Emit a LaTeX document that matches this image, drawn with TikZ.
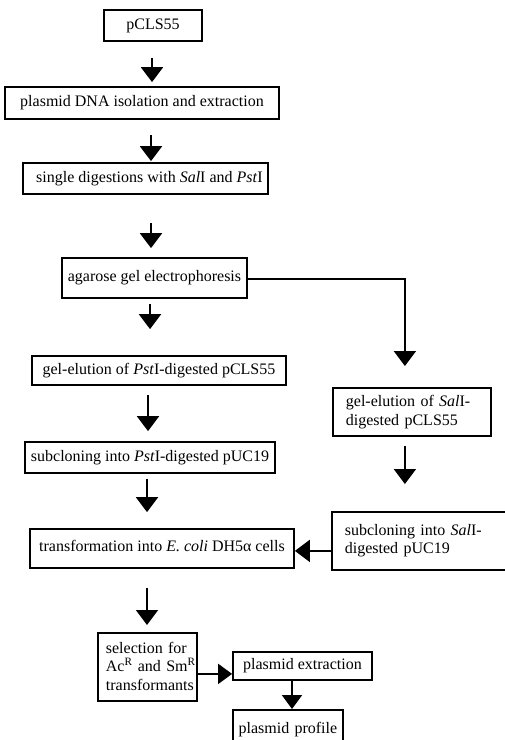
\documentclass[tikz,border=0pt]{standalone}
\usepackage{fontspec}
\setmainfont{Liberation Serif}
\usetikzlibrary{arrows.meta,calc}
\begin{document}
\begin{tikzpicture}[x=1pt,y=-1pt,
  box/.style={draw,line width=1.8pt,inner sep=0pt,font=\fontsize{16}{18.5}\selectfont},
  lbox/.style={box,anchor=north west,align=left},
  arr/.style={line width=2pt,-{Triangle[width=22pt,length=15pt]}},
  sarr/.style={line width=2pt,-{Triangle[width=20pt,length=14pt]}}]
\clip (0,0) rectangle (505,740);
\node[box,minimum width=98pt,minimum height=31pt] (p0) at (153,25.5) {pCLS55};
\node[box,minimum width=274pt,minimum height=32pt] (p1) at (142,103) {plasmid DNA isolation and extraction};
\node[box,minimum width=245pt,minimum height=31pt] (p2) at (145.5,178.5) {\hspace{8pt}single digestions with \textit{Sal}I and \textit{Pst}I};
\node[box,minimum width=185pt,minimum height=40pt] (p3) at (154.5,278) {\raisebox{5pt}{agarose gel electrophoresis}};
\node[box,minimum width=254pt,minimum height=29pt] (p4) at (159,370.5) {gel-elution of \textit{Pst}I-digested pCLS55};
\node[box,minimum width=250pt,minimum height=31pt] (p5) at (150,457.5) {subcloning into \textit{Pst}I-digested pUC19};
\node[box,minimum width=264pt,minimum height=39pt] (t) at (162,548.5) {\raisebox{5pt}{transformation into \textit{E. coli} DH5α cells}};
\node[lbox,minimum width=158pt,minimum height=48pt,inner xsep=13pt,text width=132pt] (s1) at (332,387) {gel-elution of \textit{Sal}I-\\digested pCLS55};
\node[lbox,minimum width=174pt,minimum height=58pt,inner xsep=13pt,text width=148pt] (s2) at (331,511) {\raisebox{2pt}{subcloning into \textit{Sal}I-}\\\raisebox{2pt}{digested pUC19}};
\node[lbox,minimum width=99pt,minimum height=68pt,inner xsep=8pt,text width=83pt] (sel) at (97,632) {\raisebox{2pt}{selection for}\\\raisebox{2pt}{Ac\textsuperscript{R} and Sm\textsuperscript{R}}\\\raisebox{2pt}{transformants}};
\node[box,minimum width=139pt,minimum height=28pt] (pe) at (302.5,666) {plasmid extraction};
\node[lbox,minimum width=110pt,minimum height=45pt,inner xsep=0pt,text width=110pt,align=center] (pp) at (232,709) {\raisebox{8.5pt}{plasmid profile}};
% arrows
\draw[arr] ($(p0.south)+(-1,16)$) -- ($(p0.south |- p1.north)+(-1,-4)$);
\draw[arr] ($(p1.south)+(9,15)$) -- ($(p1.south |- p2.north)+(9,-1)$);
\draw[arr] ($(p2.south)+(5.5,28)$) -- ($(p2.south |- p3.north)+(5.5,-9)$);
\draw[arr] ($(p3.south)+(-4.5,5)$) -- ($(p3.south |- p4.north)+(-4.5,-26)$);
\draw[arr] ($(p4.south)+(-11,9)$) -- ($(p4.south |- p5.north)+(-11,-10)$);
\draw[arr] ($(p5.south)+(-3,5)$) -- ($(p5.south |- t.north)+(-3,-16)$);
\draw[arr] ($(t.south)+(-15,19)$) -- ($(t.south |- sel.north)+(-15,-7)$);
\draw[arr] ($(p3.east)+(0,1)$) -| ($(s1.north)+(-7,-21)$);
\draw[arr] ($(s1.south)+(-7,9)$) -- ($(s1.south |- s2.north)+(-7,-27)$);
\draw[arr] ($(s2.west)+(0,10)$) coordinate (a10) -- (a10 -| t.east);
\draw[sarr] ($(sel.east)+(0,7)$) coordinate (a11) -- (a11 -| pe.west);
\draw[sarr] ($(pe.south)+(-10.5,0)$) -- ($(pe.south |- pp.north)+(-10.5,0)$);
\end{tikzpicture}
\end{document}
